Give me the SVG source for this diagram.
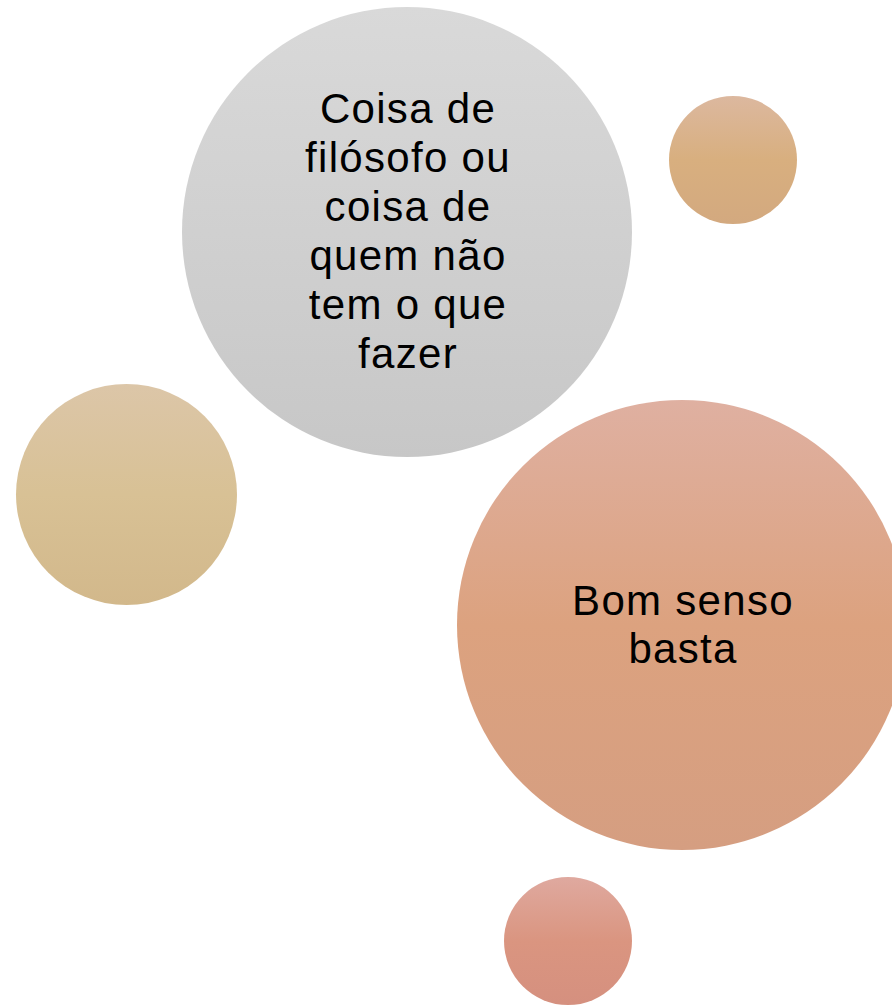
<svg xmlns="http://www.w3.org/2000/svg" width="892" height="1006" viewBox="0 0 892 1006">
<defs>
<linearGradient id="gGray" x1="0" y1="0" x2="0" y2="1"><stop offset="0" stop-color="#d9d9d9"/><stop offset="1" stop-color="#c7c7c7"/></linearGradient>
<linearGradient id="gOrange" x1="0" y1="0" x2="0" y2="1"><stop offset="0" stop-color="#dcb89f"/><stop offset="0.5" stop-color="#d8af7f"/><stop offset="1" stop-color="#d3a97f"/></linearGradient>
<linearGradient id="gTan" x1="0" y1="0" x2="0" y2="1"><stop offset="0" stop-color="#dcc6a8"/><stop offset="0.5" stop-color="#d8c195"/><stop offset="1" stop-color="#d2b88b"/></linearGradient>
<linearGradient id="gSalmon" x1="0" y1="0" x2="0" y2="1"><stop offset="0" stop-color="#dfb0a1"/><stop offset="0.5" stop-color="#dca27f"/><stop offset="1" stop-color="#d59e81"/></linearGradient>
<linearGradient id="gRose" x1="0" y1="0" x2="0" y2="1"><stop offset="0" stop-color="#dfa99f"/><stop offset="0.5" stop-color="#da9580"/><stop offset="1" stop-color="#d5907f"/></linearGradient>
<style>
.lbl{font-family:"Liberation Sans",Arial,sans-serif;font-size:42px;fill:#000;text-anchor:middle;letter-spacing:1.3px}
</style>
</defs>
<rect width="892" height="1006" fill="#ffffff"/>
<g id="connectors"/>
<g id="node-gray">
<circle cx="407" cy="232" r="225" fill="url(#gGray)"/>
<text class="lbl" x="408" y="123">Coisa de</text>
<text class="lbl" x="408" y="172">filósofo ou</text>
<text class="lbl" x="408" y="221">coisa de</text>
<text class="lbl" x="408" y="270">quem não</text>
<text class="lbl" x="408" y="319">tem o que</text>
<text class="lbl" x="408" y="368">fazer</text>
</g>
<g id="node-orange-small">
<circle cx="733" cy="160" r="64" fill="url(#gOrange)"/>
</g>
<g id="node-tan">
<circle cx="126.5" cy="494.5" r="110.5" fill="url(#gTan)"/>
</g>
<g id="node-salmon">
<circle cx="682" cy="625" r="225" fill="url(#gSalmon)"/>
<text class="lbl" x="683" y="615">Bom senso</text>
<text class="lbl" x="683" y="663">basta</text>
</g>
<g id="node-rose-small">
<circle cx="568" cy="941" r="64" fill="url(#gRose)"/>
</g>
</svg>
